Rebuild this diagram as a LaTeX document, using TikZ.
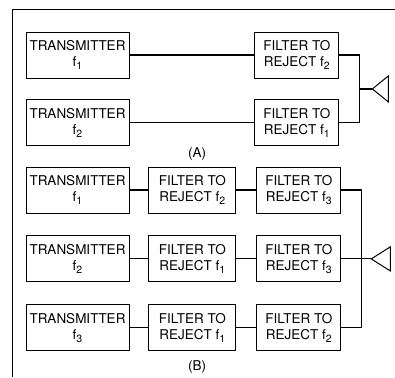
\documentclass[tikz,border=0pt]{standalone}
\usepackage{fontspec}
\setmainfont{TeX Gyre Heros}
\usetikzlibrary{positioning, calc}

\newcommand{\fq}[1]{f\raisebox{-3pt}{\fontsize{10.5}{10.5}\selectfont #1}}

\begin{document}
\begin{tikzpicture}[
    x=1pt, y=1pt,
    blk/.style={draw, line width=0.9pt, align=center, inner sep=1pt,
        minimum height=46pt, font=\fontsize{13.5}{16}\selectfont},
    tx/.style={blk, minimum width=103pt},
    flt/.style={blk, minimum width=84pt},
    fltm/.style={blk, minimum width=87pt},
    wire/.style={line width=1.1pt},
    lbl/.style={font=\fontsize{13.5}{16}\selectfont},
    node distance=21pt
]
\useasboundingbox (0,0) rectangle (395,-377);
% frame
\draw[line width=1pt] (12,-377) -- (12,-10) -- (395,-10);

% (A)
\node[tx] (txA1) at (77.5,-55) {TRANSMITTER\\\fq{1}};
\node[tx, below=of txA1] (txA2) {TRANSMITTER\\\fq{2}};
\node[flt, right=125pt of txA1] (fA1) {FILTER TO\\REJECT \fq{2}};
\node[flt, right=125pt of txA2] (fA2) {FILTER TO\\REJECT \fq{1}};
\node[lbl] (labA) at (197,-154) {(A)};

\coordinate (busA) at ($(fA1.east)!0.5!(fA2.east)+(20,0)$);
\coordinate (antA) at ($(busA)+(13,0)$);

\draw[wire] (txA1) -- (fA1);
\draw[wire] (txA2) -- (fA2);
\draw[wire] (fA1.east) -| (busA) |- (fA2.east);
\draw[wire] (busA) -- (antA);
\draw[line width=1pt] (antA) -- ++(16,13) -- ++(0,-26) -- cycle;

% (B)
\node[tx] (txB1) at (77.5,-190) {TRANSMITTER\\\fq{1}};
\node[tx, below=22pt of txB1] (txB2) {TRANSMITTER\\\fq{2}};
\node[tx, below=22pt of txB2] (txB3) {TRANSMITTER\\\fq{3}};
\node[fltm, right=19pt of txB1] (fB1a) {FILTER TO\\REJECT \fq{2}};
\node[fltm, right=19pt of txB2] (fB2a) {FILTER TO\\REJECT \fq{1}};
\node[fltm, right=19pt of txB3] (fB3a) {FILTER TO\\REJECT \fq{1}};
\node[flt, right=20pt of fB1a] (fB1b) {FILTER TO\\REJECT \fq{3}};
\node[flt, right=20pt of fB2a] (fB2b) {FILTER TO\\REJECT \fq{3}};
\node[flt, right=20pt of fB3a] (fB3b) {FILTER TO\\REJECT \fq{2}};
\node[lbl] (labB) at (197,-367) {(B)};

\coordinate (busB) at ($(fB2b.east)+(20,0)$);
\coordinate (antB) at ($(busB)+(10,0)$);

\draw[wire] (txB1) -- (fB1a);
\draw[wire] (txB2) -- (fB2a);
\draw[wire] (txB3) -- (fB3a);
\draw[wire] (fB1a) -- (fB1b);
\draw[wire] (fB2a) -- (fB2b);
\draw[wire] (fB3a) -- (fB3b);
\draw[wire] (fB1b.east) -| (busB) |- (fB3b.east);
\draw[wire] (fB2b.east) -- (antB);
\draw[line width=1pt] (antB) -- ++(19,12) -- ++(0,-24) -- cycle;
\end{tikzpicture}
\end{document}
